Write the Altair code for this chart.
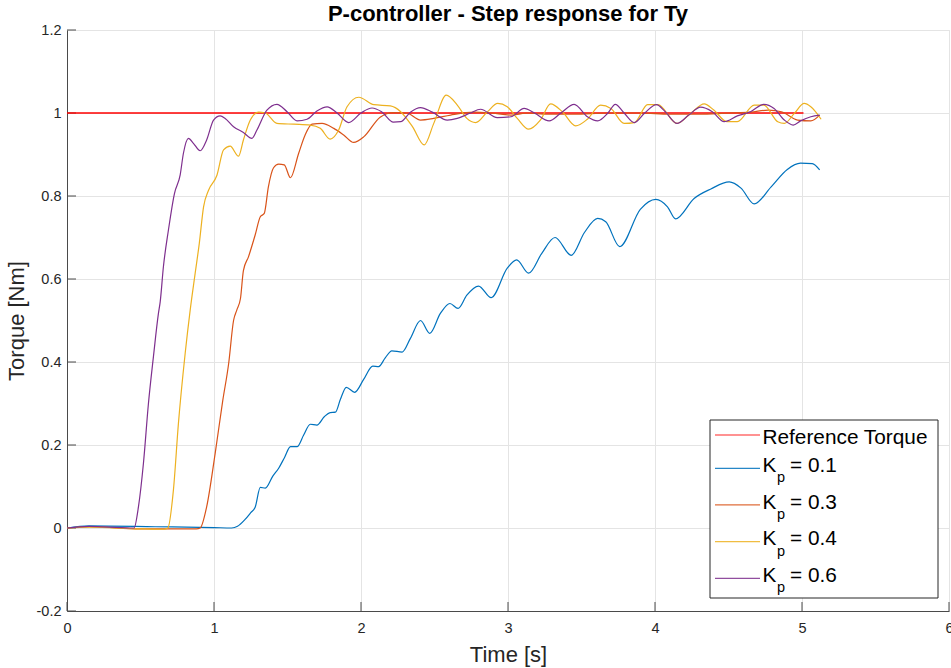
import altair as alt
import pandas as pd

# ---------------- data ----------------
time_ref = [0.0, 5.01]
torque_ref = [1.0, 1.0]

time_kp01 = [0.0, 0.15, 0.6, 1.0, 1.12, 1.16, 1.21, 1.25, 1.28, 1.315, 1.349, 1.40, 1.44, 1.48,
             1.52, 1.565, 1.61, 1.655, 1.70, 1.75, 1.79, 1.826, 1.86, 1.90, 1.957, 2.018, 2.08,
             2.12, 2.165, 2.21, 2.28, 2.336, 2.405, 2.468, 2.54, 2.605, 2.66, 2.72, 2.80, 2.886,
             2.995, 3.059, 3.14, 3.23, 3.32, 3.43, 3.52, 3.61, 3.665, 3.76, 3.90, 4.005, 4.085,
             4.14, 4.266, 4.38, 4.505, 4.585, 4.675, 4.79, 4.90, 4.99, 5.07, 5.12]
torque_kp01 = [0.0, 0.005, 0.003, 0.001, 0.0, 0.004, 0.02, 0.037, 0.05, 0.098, 0.096, 0.125, 0.144,
               0.17, 0.196, 0.196, 0.224, 0.25, 0.248, 0.268, 0.278, 0.279, 0.31, 0.339, 0.327,
               0.358, 0.39, 0.389, 0.41, 0.427, 0.424, 0.457, 0.50, 0.469, 0.517, 0.541, 0.529,
               0.561, 0.583, 0.555, 0.626, 0.646, 0.614, 0.662, 0.70, 0.657, 0.712, 0.746, 0.738,
               0.678, 0.768, 0.792, 0.774, 0.745, 0.794, 0.817, 0.834, 0.819, 0.781, 0.822, 0.864,
               0.879, 0.878, 0.863]

time_kp03 = [0.0, 0.15, 0.5, 0.88, 0.906, 0.95, 1.008, 1.06, 1.10, 1.133, 1.155, 1.18, 1.20, 1.235,
             1.28, 1.315, 1.342, 1.37, 1.405, 1.44, 1.478, 1.52, 1.576, 1.62, 1.667, 1.735, 1.815,
             1.882, 1.95, 2.02, 2.13, 2.22, 2.31, 2.405, 2.495, 2.61, 2.77, 2.88, 3.02, 3.13,
             3.27, 3.45, 3.68, 3.90, 4.10, 4.30, 4.50, 4.65, 4.77, 4.86, 4.97, 5.06, 5.12]
torque_kp03 = [0.0, 0.003, -0.002, -0.002, 0.0, 0.051, 0.18, 0.308, 0.397, 0.50, 0.525, 0.553, 0.62,
               0.654, 0.706, 0.75, 0.758, 0.822, 0.868, 0.877, 0.875, 0.844, 0.903, 0.947, 0.973,
               0.975, 0.963, 0.947, 0.929, 0.943, 0.99, 1.001, 1.0, 0.983, 0.987, 0.995, 1.002,
               1.0, 0.995, 1.0, 0.997, 0.997, 1.0, 1.0, 0.997, 0.997, 1.0, 1.002, 1.007, 1.003,
               0.983, 0.981, 0.995]

time_kp04 = [0.0, 0.15, 0.5, 0.66, 0.686, 0.724, 0.758, 0.804, 0.838, 0.872, 0.90, 0.929, 0.963,
             1.02, 1.065, 1.11, 1.167, 1.20, 1.247, 1.303, 1.349, 1.428, 1.542, 1.655, 1.723,
             1.79, 1.848, 1.905, 1.985, 2.087, 2.20, 2.27, 2.35, 2.43, 2.495, 2.58, 2.655, 2.72,
             2.78, 2.86, 2.93, 2.995, 3.063, 3.14, 3.22, 3.29, 3.37, 3.46, 3.54, 3.63, 3.70, 3.79,
             3.86, 3.95, 4.02, 4.15, 4.245, 4.335, 4.40, 4.49, 4.56, 4.675, 4.74, 4.835, 4.88,
             4.95, 5.015, 5.06, 5.13]
torque_kp04 = [0.0, 0.002, -0.002, -0.003, 0.0, 0.092, 0.252, 0.421, 0.525, 0.614, 0.686, 0.774,
               0.814, 0.85, 0.911, 0.92, 0.896, 0.935, 0.983, 1.002, 1.0, 0.975, 0.973, 0.971,
               0.963, 0.937, 0.959, 1.015, 1.038, 1.02, 1.017, 1.003, 0.967, 0.923, 0.975, 1.043,
               1.019, 0.987, 0.977, 1.003, 1.023, 1.015, 0.987, 0.961, 0.983, 1.022, 1.003, 0.969,
               0.985, 1.019, 1.011, 0.975, 0.977, 1.02, 1.02, 0.975, 1.0, 1.022, 1.007, 0.979,
               0.979, 1.019, 1.019, 0.979, 0.975, 1.0, 1.023, 1.015, 0.985]

time_kp06 = [0.0, 0.15, 0.43, 0.456, 0.486, 0.52, 0.554, 0.588, 0.622, 0.634, 0.656, 0.69, 0.731,
             0.77, 0.792, 0.826, 0.86, 0.906, 0.95, 0.997, 1.042, 1.076, 1.133, 1.20, 1.258, 1.292,
             1.36, 1.428, 1.497, 1.565, 1.633, 1.70, 1.77, 1.837, 1.916, 2.0, 2.075, 2.14, 2.22,
             2.27, 2.336, 2.405, 2.485, 2.587, 2.655, 2.745, 2.813, 2.927, 3.02, 3.11, 3.18, 3.28,
             3.36, 3.45, 3.54, 3.61, 3.68, 3.73, 3.79, 3.86, 3.93, 4.01, 4.07, 4.15, 4.23, 4.31,
             4.39, 4.47, 4.56, 4.65, 4.74, 4.81, 4.88, 4.94, 4.99, 5.06, 5.12]
torque_kp06 = [0.0, 0.004, 0.0, 0.0, 0.051, 0.156, 0.30, 0.413, 0.517, 0.545, 0.63, 0.718, 0.806,
               0.851, 0.903, 0.939, 0.927, 0.909, 0.935, 0.983, 0.993, 0.987, 0.967, 0.953, 0.939,
               0.959, 1.007, 1.021, 1.003, 0.981, 0.985, 1.005, 1.015, 1.0, 0.977, 1.0, 1.012,
               1.003, 0.978, 0.979, 1.002, 1.013, 1.002, 0.983, 0.987, 1.0, 1.009, 0.989, 0.991,
               1.011, 1.0, 0.981, 1.0, 1.021, 0.991, 0.981, 1.0, 1.021, 1.0, 0.977, 1.0, 1.02,
               1.003, 0.975, 0.995, 1.014, 1.003, 0.979, 0.993, 1.003, 1.021, 1.011, 0.983, 0.971,
               0.981, 0.991, 0.995]

series_times = [time_ref, time_kp01, time_kp03, time_kp04, time_kp06]
series_values = [torque_ref, torque_kp01, torque_kp03, torque_kp04, torque_kp06]
series_colors = ["#FF0000", "#0072BD", "#D95319", "#EDB120", "#7E2F8E"]

legend_main = ["Reference Torque", "K", "K", "K", "K"]
legend_sub = ["", "p", "p", "p", "p"]
legend_rest = ["", "= 0.1", "= 0.3", "= 0.4", "= 0.6"]

x_ticks = [0, 1, 2, 3, 4, 5, 6]
y_ticks = [-0.2, 0.0, 0.2, 0.4, 0.6, 0.8, 1.0, 1.2]

title_text = "P-controller - Step response for Ty"
x_title = "Time [s]"
y_title = "Torque [Nm]"

# ---------------- styling ----------------
W, H = 882, 581
FONT = "Liberation Sans"
AXIS_COLOR = "#4a4a4a"
TEXT_COLOR = "#262626"
GRID_COLOR = "#e4e4e4"
TICK_LEN = 9

xs = alt.Scale(domain=[0, 6], nice=False, zero=False)
ys = alt.Scale(domain=[-0.2, 1.2], nice=False, zero=False)

x_axis = alt.Axis(values=x_ticks, title=x_title, grid=True, gridColor=GRID_COLOR, gridWidth=1,
                  ticks=False, tickSize=0, domainColor=AXIS_COLOR, domainWidth=1,
                  labelFont=FONT, labelFontSize=14.5, labelColor=TEXT_COLOR, labelPadding=10,
                  labelExpr="toString(datum.value)", labelFlush=False,
                  titleFont=FONT, titleFontSize=22, titleFontWeight="normal", titleColor=TEXT_COLOR,
                  titleBaseline="alphabetic", titleY=50, titleX=W / 2)
y_axis = alt.Axis(values=y_ticks, title=y_title, grid=True, gridColor=GRID_COLOR, gridWidth=1,
                  ticks=False, tickSize=0, domainColor=AXIS_COLOR, domainWidth=1,
                  labelFont=FONT, labelFontSize=14.5, labelColor=TEXT_COLOR, labelPadding=6,
                  labelExpr="toString(round(datum.value * 10) / 10)", labelFlush=False,
                  titleFont=FONT, titleFontSize=22, titleFontWeight="normal", titleColor=TEXT_COLOR,
                  titleBaseline="alphabetic", titleAngle=270, titleX=-44, titleY=H / 2)


def X(field):
    return alt.X(field, type="quantitative", scale=xs, axis=x_axis)


def Y(field):
    return alt.Y(field, type="quantitative", scale=ys, axis=y_axis)


layers = []

# inward tick marks (MATLAB style)
ytick_df = pd.DataFrame({"tv": y_ticks})
xtick_df = pd.DataFrame({"tv": x_ticks})
layers.append(alt.Chart(ytick_df).mark_rule(color=AXIS_COLOR, strokeWidth=1).encode(
    y=Y("tv"), x=alt.value(0), x2=alt.value(TICK_LEN)))
layers.append(alt.Chart(xtick_df).mark_rule(color=AXIS_COLOR, strokeWidth=1).encode(
    x=X("tv"), y=alt.value(H), y2=alt.value(H - TICK_LEN)))

# data lines
for i, (ts, vs, col) in enumerate(zip(series_times, series_values, series_colors)):
    df = pd.DataFrame({"t": ts, "v": vs})
    if i == 0:
        mk = alt.Chart(df).mark_line(color=col, strokeWidth=1.5)
    else:
        mk = alt.Chart(df).mark_line(color=col, strokeWidth=1.2, interpolate="monotone")
    layers.append(mk.encode(x=X("t"), y=Y("v")))

# custom legend (box + samples + labels)
LEG_X0, LEG_X1, LEG_Y0, LEG_Y1 = 643, 871, 390, 568
SAMPLE_X0, SAMPLE_X1 = 648, 693
TEXT_X = 695.5
SUB_X = 710
REST_X = 723
LEG_FS = 20.8
SUB_FS = 14.5

box_df = pd.DataFrame({"k": [0]})
layers.append(alt.Chart(box_df).mark_rect(fill="white", stroke="#262626", strokeWidth=1).encode(
    x=alt.value(LEG_X0), x2=alt.value(LEG_X1), y=alt.value(LEG_Y0), y2=alt.value(LEG_Y1)))

for i in range(len(legend_main)):
    if i == 0:
        line_y = 405.0
        base_y = 414.0
    else:
        line_y = 438.3 + (i - 1) * 36.67
        base_y = line_y + 3.6
    ldf = pd.DataFrame({"main": [legend_main[i]], "sub": [legend_sub[i]], "rest": [legend_rest[i]]})
    base = alt.Chart(ldf)
    layers.append(base.mark_rule(color=series_colors[i], strokeWidth=1.2, opacity=0.85).encode(
        x=alt.value(SAMPLE_X0), x2=alt.value(SAMPLE_X1), y=alt.value(line_y)))
    layers.append(base.mark_text(align="left", baseline="alphabetic", font=FONT, fontSize=LEG_FS,
                                 color="#000000").encode(
        text="main:N", x=alt.value(TEXT_X), y=alt.value(base_y)))
    if legend_sub[i]:
        layers.append(base.mark_text(align="left", baseline="alphabetic", font=FONT,
                                     fontSize=SUB_FS, color="#000000").encode(
            text="sub:N", x=alt.value(SUB_X), y=alt.value(base_y + 10.5)))
        layers.append(base.mark_text(align="left", baseline="alphabetic", font=FONT,
                                     fontSize=LEG_FS, color="#000000").encode(
            text="rest:N", x=alt.value(REST_X), y=alt.value(base_y)))

chart = alt.layer(*layers).properties(
    width=W, height=H,
    title=alt.TitleParams(text=title_text, font=FONT, fontSize=22, fontWeight="bold",
                          color="#000000", anchor="middle", offset=4, dy=8),
    autosize=alt.AutoSizeParams(type="none"),
    padding={"left": 67, "top": 30, "right": 2, "bottom": 57},
).configure_view(stroke=None).configure(background="white")

chart.save("out.html", embed_options={"renderer": "svg", "actions": False})
